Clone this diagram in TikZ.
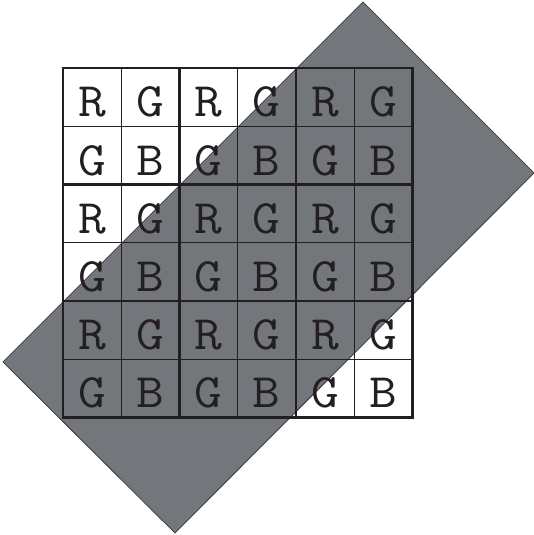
\documentclass[tikz,border=0pt]{standalone}
\definecolor{slab}{RGB}{115,119,123}
\definecolor{ink}{RGB}{35,31,32}
\tikzset{
  graybox/.style={fill=slab, draw=black!75, line width=0.6pt},
  thinline/.style={draw=ink, line width=1pt},
  thickline/.style={draw=ink, line width=2.6pt, line cap=rect},
  cell/.style={font=\ttfamily\fontsize{48}{48}\selectfont, text=ink, anchor=base, inner sep=0pt, xscale=1.12, transform shape}
}
\begin{document}
\begin{tikzpicture}[x=1pt,y=-1pt]
\useasboundingbox (0,0) rectangle (534,535);
\fill[graybox] (363,2) -- (534,173) -- (175,533) -- (3,362) -- cycle;
\draw[graybox, fill=none] (363,2) -- (534,173) -- (175,533) -- (3,362) -- cycle;
\foreach \i in {0,...,6}{
  \draw[thinline] (63+\i*58.2,68) -- (63+\i*58.2,417.2);
  \draw[thinline] (63,68+\i*58.2) -- (412.2,68+\i*58.2);
}
\foreach \i in {0,2,4,6}{
  \draw[thickline] (63+\i*58.2,68) -- (63+\i*58.2,417.2);
  \draw[thickline] (63,68+\i*58.2) -- (412.2,68+\i*58.2);
}
\foreach \r in {0,...,5}{
  \foreach \c in {0,...,5}{
    \pgfmathsetmacro{\lbl}{ifthenelse(mod(\r,2)==0, ifthenelse(mod(\c,2)==0,"R","G"), ifthenelse(mod(\c,2)==0,"G","B"))}
    \node[cell] (n\r\c) at (63+\c*58.2+29.1, 68+\r*58.2+48.9) {\lbl};
  }
}
\end{tikzpicture}
\end{document}
